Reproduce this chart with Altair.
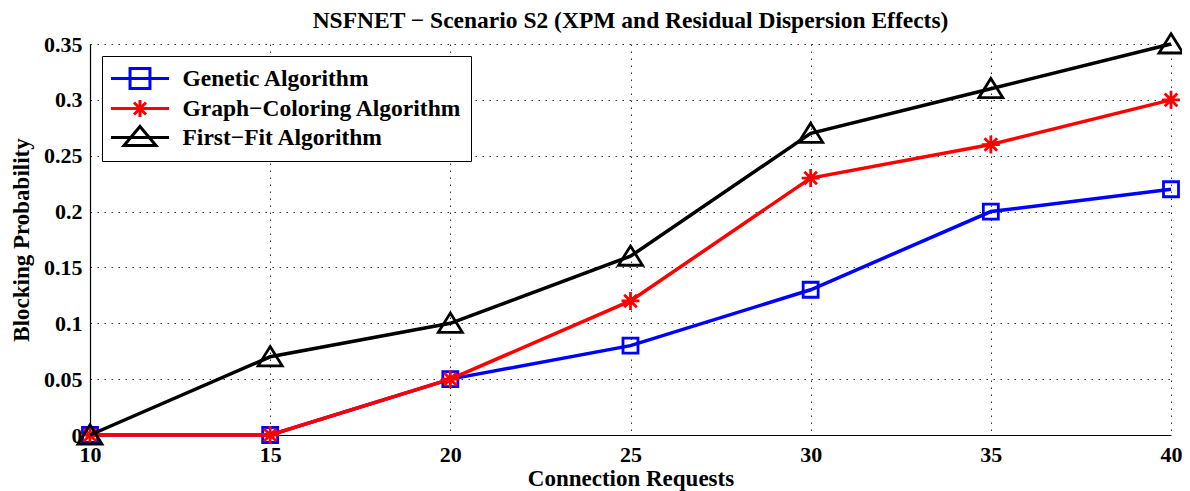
import altair as alt
import pandas as pd

requests = [10, 15, 20, 25, 30, 35, 40]
series_names = ["Genetic Algorithm", "Graph\u2212Coloring Algorithm", "First\u2212Fit Algorithm"]
genetic = [0.0, 0.0, 0.05, 0.08, 0.13, 0.20, 0.22]
graph_coloring = [0.0, 0.0, 0.05, 0.12, 0.23, 0.26, 0.30]
first_fit = [0.0, 0.07, 0.10, 0.16, 0.27, 0.31, 0.35]
colors = ["#0000ff", "#ff0000", "#000000"]

marker_paths = [
    "M-1,-1H1V1H-1Z",
    "M0,-1V1M-1,0H1M-0.7,-0.7L0.7,0.7M-0.7,0.7L0.7,-0.7",
    "M0,-0.85L1,0.75H-1Z",
]
marker_sizes = [225, 324, 576]
legend_paths = [
    "M-2.42,0H2.42M-0.83,-0.83H0.83V0.83H-0.83Z",
    "M-2.42,0H2.42M0,-0.71V0.71M-0.5,-0.5L0.5,0.5M-0.5,0.5L0.5,-0.5",
    "M-2.42,0H2.42M0,-0.92L1.33,0.67H-1.33Z",
]

rows = []
for name, vals in zip(series_names, [genetic, graph_coloring, first_fit]):
    for x, v in zip(requests, vals):
        rows.append({"requests": x, "prob": v, "series": name})
df = pd.DataFrame(rows)

FONT = "Liberation Serif"

xenc = alt.X("requests:Q",
             scale=alt.Scale(domain=[10, 40], nice=False),
             axis=alt.Axis(values=requests, title="Connection Requests"))
yenc = alt.Y("prob:Q",
             scale=alt.Scale(domain=[0, 0.35], nice=False),
             axis=alt.Axis(values=[0, 0.05, 0.1, 0.15, 0.2, 0.25, 0.3, 0.35],
                           format=".2~f", title="Blocking Probability"))
cenc = alt.Color("series:N", scale=alt.Scale(domain=series_names, range=colors), legend=None)

layers = []
for i, name in enumerate(series_names):
    base = alt.Chart(df).transform_filter(alt.datum.series == name)
    layers.append(base.mark_line(strokeWidth=3.5).encode(x=xenc, y=yenc, color=cenc))
    layers.append(base.mark_point(filled=False, strokeWidth=2.8, size=marker_sizes[i],
                                  shape=marker_paths[i], opacity=1)
                  .encode(x=xenc, y=yenc, color=cenc))

legend_layer = alt.Chart(df).transform_filter("false").mark_point(
    filled=False, strokeWidth=3, opacity=1
).encode(
    x=xenc, y=yenc,
    color=alt.Color("series:N", scale=alt.Scale(domain=series_names, range=colors),
                    legend=alt.Legend(title=None)),
    shape=alt.Shape("series:N", scale=alt.Scale(domain=series_names, range=legend_paths),
                    legend=alt.Legend(
                        title=None, orient="none", legendX=12, legendY=12,
                        symbolSize=576, symbolStrokeWidth=3, symbolOffset=15.5,
                        labelFont=FONT, labelFontSize=23.5, labelFontWeight="bold",
                        labelColor="black", labelLimit=500, labelOffset=29,
                        rowPadding=-4, padding=9, strokeColor="black",
                        fillColor="white", cornerRadius=0)),
)

chart = alt.layer(*layers, legend_layer).resolve_scale(
    color="independent", shape="independent"
).properties(
    width=1081, height=391,
    autosize="none",
    padding={"left": 82, "top": 36, "right": 11, "bottom": 56},
    title=alt.TitleParams(
        "NSFNET \u2212 Scenario S2 (XPM and Residual Dispersion Effects)",
        font=FONT, fontSize=23.5, fontWeight="bold", color="black",
        anchor="middle", offset=-4),
).configure_view(stroke=None).configure_axis(
    labelFont=FONT, labelFontSize=22, labelFontWeight="bold", labelColor="black",
    titleFont=FONT, titleFontSize=23, titleFontWeight="bold", titleColor="black",
    domainColor="black", domainWidth=1.2, ticks=False,
    gridColor="#000000", gridOpacity=0.8, gridDash=[1.5, 5.5], gridWidth=1,
).configure_axisX(
    labelPadding=9, titlePadding=2, labelFlush=False,
).configure_axisY(
    labelPadding=8, titlePadding=10,
)

chart.save("out.html", embed_options={"renderer": "svg", "actions": False})
